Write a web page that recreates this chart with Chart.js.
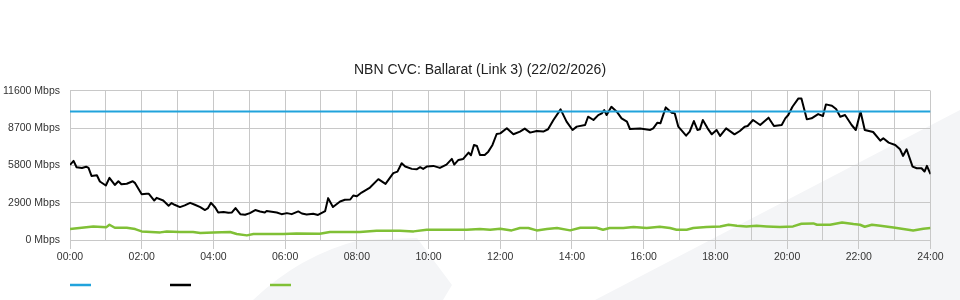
<!DOCTYPE html>
<html>
<head>
<meta charset="utf-8">
<script src="https://cdn.jsdelivr.net/npm/chart.js@4.4.1/dist/chart.umd.min.js"></script>
<style>
	html, body { margin: 0; padding: 0; background: #fff; }
	#wrap { width: 960px; height: 300px; }
</style>
</head>
<body>
<div id="wrap"><canvas id="cvc"></canvas></div>
<script>
// Minutes since midnight, Mbps values

const capacityMbps = 10000;
const capacityTimes = [0, 1440];

const trafficTimes = [
	0, 6, 11, 20, 27, 31, 36, 45, 50, 60, 66, 75, 81, 86, 95, 105, 109, 120, 128, 132,
	141, 145, 156, 165, 170, 175, 184, 192, 201, 209, 218, 226, 231, 236, 243, 248, 257, 265, 271, 277,
	285, 293, 301, 310, 318, 326, 329, 346, 354, 363, 371, 382, 388, 396, 407, 415, 427, 432, 440, 452,
	460, 469, 474, 480, 488, 502, 516, 528, 541, 548, 555, 561, 572, 580, 586, 591, 597, 608, 619, 630,
	639, 643, 650, 658, 667, 671, 676, 681, 686, 694, 700, 707, 714, 720, 731, 742, 753, 761, 770, 781,
	792, 800, 809, 821, 831, 841, 848, 862, 867, 876, 884, 890, 894, 898, 906, 915, 923, 932, 937, 954,
	971, 976, 983, 988, 997, 1007, 1012, 1018, 1031, 1037, 1044, 1050, 1054, 1059, 1067, 1074, 1082, 1088, 1098, 1112,
	1121, 1129, 1134, 1143, 1155, 1169, 1178, 1191, 1197, 1202, 1209, 1219, 1224, 1233, 1241, 1252, 1260, 1265, 1275, 1282,
	1289, 1297, 1308, 1315, 1323, 1330, 1344, 1356, 1361, 1370, 1381, 1389, 1394, 1400, 1410, 1417, 1425, 1430, 1434, 1440,
];
const trafficMbps = [
	5840, 6150, 5660, 5600, 5700, 5600, 4985, 5030, 4545, 4235, 4830, 4280, 4570, 4340, 4370, 4570, 4420, 3565, 3590, 3590,
	3070, 3280, 3070, 2660, 2870, 2740, 2560, 2690, 2890, 2740, 2560, 2330, 2480, 2890, 2530, 2140, 2170, 2120, 2140, 2480,
	2010, 1960, 2090, 2330, 2220, 2140, 2250, 2140, 2010, 2090, 2010, 2220, 2060, 1990, 2040, 1950, 2250, 3255, 2560, 2995,
	3125, 3150, 3460, 3400, 3690, 4080, 4730, 4365, 5195, 5320, 5970, 5710, 5530, 5500, 5660, 5530, 5710, 5760, 5605, 5865,
	6305, 5865, 6225, 6305, 6795, 6590, 7390, 7310, 6615, 6615, 6870, 7390, 8240, 8290, 8685, 8220, 8430, 8660, 8350, 8480,
	8430, 8610, 9330, 10160, 9200, 8555, 8815, 8940, 9585, 9330, 9710, 9845, 10100, 9715, 10360, 9975, 9460, 9200, 8630, 8660,
	8553, 8682, 9120, 9070, 10310, 9900, 9845, 8811, 8114, 8420, 9250, 8553, 8605, 9328, 8682, 8217, 8553, 8088, 8682, 8217,
	8475, 8811, 8863, 9328, 8940, 9510, 8863, 8940, 9458, 9716, 10362, 11008, 11008, 9380, 9458, 9790, 9638, 10543, 10440, 10181,
	9586, 9716, 8940, 8553, 9974, 8553, 8397, 7725, 7906, 7570, 7390, 7053, 6536, 7053, 5710, 5581, 5581, 5323, 5762, 5116,
];

const otherTimes = [
	0, 39, 61, 66, 75, 95, 109, 120, 151, 162, 184, 206, 218, 240, 268, 279, 296, 307, 357, 379,
	418, 435, 485, 513, 552, 575, 597, 664, 686, 703, 720, 739, 753, 767, 781, 798, 815, 837, 854, 881,
	892, 903, 926, 943, 965, 987, 1004, 1015, 1032, 1043, 1065, 1088, 1102, 1116, 1132, 1149, 1166, 1188, 1210, 1224,
	1244, 1250, 1272, 1292, 1311, 1322, 1330, 1342, 1356, 1378, 1411, 1428, 1440,
];
const otherMbps = [
	851, 1057, 1000, 1186, 950, 950, 850, 669, 592, 660, 618, 618, 540, 592, 618, 465, 359, 463, 463, 510,
	480, 620, 620, 721, 721, 670, 800, 800, 851, 799, 876, 747, 928, 928, 747, 851, 928, 747, 954, 954,
	799, 928, 928, 1006, 928, 1031, 928, 799, 799, 928, 1006, 1057, 1186, 1109, 1057, 1109, 1057, 1006, 1057, 1264,
	1290, 1186, 1186, 1367, 1238, 1186, 1031, 1186, 1109, 980, 747, 876, 928,
];

const yTicks = [0, 2900, 5800, 8700, 11600];
const titleText = "NBN CVC: Ballarat (Link 3) (22/02/2026)";

const toPoints = (times, values) => times.map((t, i) => ({ x: t, y: values[i] }));
const hhmm = (mins) => `${String(Math.floor(mins / 60)).padStart(2, "0")}:00`;

const gridColor = "#c8c8c8";

// faint watermark behind the plot
const watermark = {
	id: "watermark",
	beforeDraw(chart) {
		const ctx = chart.ctx;
		ctx.save();
		ctx.fillStyle = "#f4f5f7";
		ctx.beginPath();
		ctx.moveTo(595, 300);
		ctx.lineTo(960, 110);
		ctx.lineTo(960, 300);
		ctx.closePath();
		ctx.fill();
		ctx.beginPath();
		ctx.moveTo(253, 300);
		ctx.quadraticCurveTo(300, 255, 360, 240);
		ctx.lineTo(417, 238);
		ctx.lineTo(452, 285);
		ctx.lineTo(443, 300);
		ctx.closePath();
		ctx.fill();
		ctx.restore();
	},
};

// legend is only coloured strokes, no text
const strokeLegend = {
	id: "strokeLegend",
	afterDraw(chart) {
		const ctx = chart.ctx;
		ctx.save();
		chart.data.datasets.forEach((ds, i) => {
			const x = chart.chartArea.left + i * 100;
			ctx.strokeStyle = ds.borderColor;
			ctx.lineWidth = 2.5;
			ctx.beginPath();
			ctx.moveTo(x, 285);
			ctx.lineTo(x + 21, 285);
			ctx.stroke();
		});
		ctx.restore();
	},
};

Chart.defaults.font.family = "'Liberation Sans', Arial, sans-serif";
Chart.defaults.color = "#333";

new Chart(document.getElementById("cvc").getContext("2d"), {
	type: "line",
	data: {
		datasets: [
			{
				label: "",
				data: toPoints(capacityTimes, [capacityMbps, capacityMbps]),
				borderColor: "#21a3dc",
				borderWidth: 2,
			},
			{
				label: "",
				data: toPoints(trafficTimes, trafficMbps),
				borderColor: "#000000",
				borderWidth: 2,
			},
			{
				label: "",
				data: toPoints(otherTimes, otherMbps),
				borderColor: "#80c036",
				borderWidth: 2.5,
			},
		],
	},
	options: {
		responsive: true,
		maintainAspectRatio: false,
		animation: false,
		elements: {
			point: { radius: 0 },
			line: { tension: 0, borderJoinStyle: "round" },
		},
		layout: { padding: 0 },
		plugins: {
			legend: { display: false },
			tooltip: { enabled: false },
			title: {
				display: true,
				text: titleText,
				color: "#222",
				font: { size: 14, weight: "normal" },
				padding: { top: 62, bottom: 12 },
			},
		},
		scales: {
			x: {
				type: "linear",
				min: 0,
				max: 1440,
				afterFit: (scale) => { scale.height = 60; },
				ticks: {
					stepSize: 60,
					autoSkip: false,
					maxRotation: 0,
					padding: 2,
					font: { size: 10.5 },
					callback: (v) => (v % 120 === 0 ? hhmm(v) : ""),
				},
				grid: {
					color: gridColor,
					tickLength: 9,
					tickColor: (c) => (c.tick && c.tick.value % 120 === 0 ? gridColor : "rgba(0,0,0,0)"),
				},
				border: { color: gridColor },
			},
			y: {
				min: 0,
				max: 11600,
				afterFit: (scale) => { scale.width = 70; },
				afterBuildTicks: (scale) => {
					scale.ticks = yTicks.map((v) => ({ value: v }));
				},
				ticks: {
					padding: 10,
					font: { size: 10.5 },
					callback: (v) => `${v} Mbps`,
				},
				grid: { color: gridColor, drawTicks: false },
				border: { color: gridColor },
			},
			// empty right-hand axis, only keeps the right margin so the title stays centred
			spacer: {
				position: "right",
				min: 0,
				max: 11600,
				afterFit: (scale) => { scale.width = 29.5; },
				ticks: { display: false },
				grid: { display: false, drawTicks: false },
				border: { display: false },
			},
		},
	},
	plugins: [watermark, strokeLegend],
});
</script>
</body>
</html>
